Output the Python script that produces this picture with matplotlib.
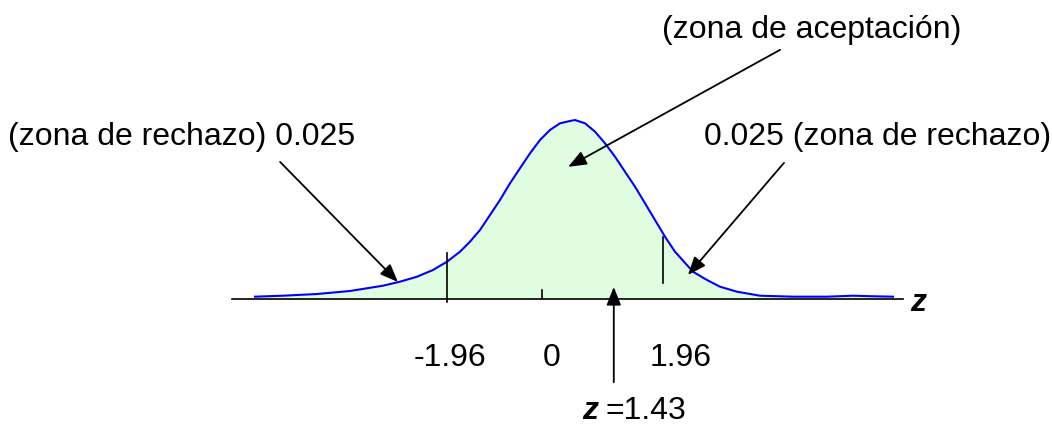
import numpy as np
import matplotlib.pyplot as plt

# curve: z position and height (density units)
curve_z = [-5.918, -5.340, -4.639, -3.959, -3.278, -2.928, -2.577, -2.247, -1.959, -1.691,
           -1.485, -1.278, -1.072, -0.866, -0.660, -0.454, -0.247, -0.041, 0.165, 0.371,
           0.577, 0.680, 0.887, 1.093, 1.299, 1.505, 1.711, 1.918, 2.124, 2.330,
           2.536, 2.742, 3.113, 3.402, 3.670, 4.021, 4.495, 5.175, 5.876,
           6.412, 6.825, 7.237]
curve_d = [0.0052, 0.0074, 0.0112, 0.0180, 0.0299, 0.0389, 0.0501, 0.0652, 0.0838, 0.1063,
           0.1288, 0.1551, 0.1888, 0.2225, 0.2600, 0.2937, 0.3274, 0.3573, 0.3798, 0.3948,
           0.4000, 0.4022, 0.3948, 0.3760, 0.3499, 0.3198, 0.2861, 0.2524, 0.2151, 0.1775,
           0.1400, 0.1063, 0.0613, 0.0427, 0.0276, 0.0164, 0.0074, 0.0052, 0.0052,
           0.0074, 0.0061, 0.0052]

# critical marks as drawn (z, bottom, top)
left_mark = (-1.96, -0.007, 0.103)
right_mark = (2.495, 0.036, 0.139)
zero_tick = (0.0, 0.0, 0.02)
z_obs = 1.48  # where the z = 1.43 arrow sits

tick_labels = ['-1.96', '0', '1.96']
tick_label_z = [-1.90, 0.19, 2.85]

fill_color = '#e1fde1'
font = 'Liberation Sans'
fs = 23

fig = plt.figure(figsize=(10.52, 4.28), dpi=100)
ax = fig.add_axes([0, 0, 1, 1])
ax.set_xlim(-542 / 48.5, (1052 - 542) / 48.5)
ax.set_ylim((299 - 428) / 445, 299 / 445)
ax.axis('off')

ax.fill_between(curve_z, 0, curve_d, color=fill_color, lw=0)
ax.plot(curve_z, curve_d, color='#0000ff', lw=1.5, solid_joinstyle='round')

# horizontal axis
ax.plot([-6.39, 7.44], [0, 0], color='black', lw=1.2)
ax.text(7.6, -0.009, 'z', fontsize=fs, fontweight='bold', fontstyle='italic',
        family=font, ha='left', va='center')

for zz, lo, hi in [left_mark, right_mark, zero_tick]:
    ax.plot([zz, zz], [lo, hi], color='black', lw=1.2)

for lab, zz in zip(tick_labels, tick_label_z):
    ax.text(zz, -0.133, lab, fontsize=fs, family=font, ha='center', va='center')

arrow = dict(arrowstyle='-|>,head_length=0.55,head_width=0.22', mutation_scale=20,
             lw=1.3, color='black', shrinkA=0, shrinkB=0)

ax.text(-11.01, 0.364, '(zona de rechazo) 0.025', fontsize=fs, family=font,
        ha='left', va='center')
ax.annotate('', xy=(-2.97, 0.038), xytext=(-5.40, 0.308), arrowprops=arrow)

ax.text(3.33, 0.364, '0.025 (zona de rechazo)', fontsize=fs, family=font,
        ha='left', va='center')
ax.annotate('', xy=(3.01, 0.054), xytext=(4.99, 0.306), arrowprops=arrow)

ax.text(5.57, 0.604, '(zona de aceptación)', fontsize=fs, family=font,
        ha='center', va='center')
ax.annotate('', xy=(0.54, 0.297), xytext=(4.91, 0.56), arrowprops=arrow)

# observed statistic
ax.annotate('', xy=(z_obs, 0.027), xytext=(z_obs, -0.187), arrowprops=arrow)
ax.text(1.155, -0.252, 'z', fontsize=fs, fontweight='bold', fontstyle='italic',
        family=font, ha='right', va='center')
ax.text(1.30, -0.252, '=1.43', fontsize=fs, family=font, ha='left', va='center')

fig.savefig('out.png', dpi=100)
